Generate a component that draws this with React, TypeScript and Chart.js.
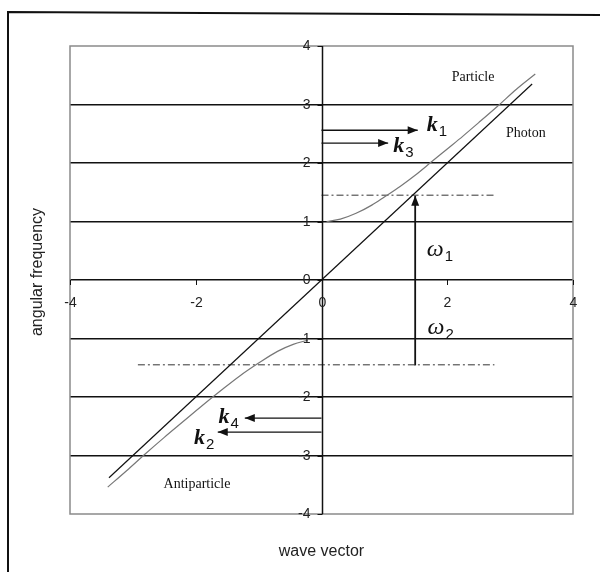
import React, { useEffect, useRef } from 'react';
import { Chart, registerables } from 'chart.js';

Chart.register(...registerables);

// ---- data ----
const photonX = [-3.38, 3.35];
const photonY = [-3.38, 3.35];

const particleX = [0.08, 0.3, 0.55, 0.8, 1.0, 1.25, 1.5, 1.75, 2.0, 2.25, 2.5, 2.8, 3.1, 3.4];
const particleY = [1.0, 1.04, 1.14, 1.28, 1.42, 1.6, 1.8, 2.02, 2.24, 2.46, 2.69, 2.97, 3.26, 3.52];

const antiX = [-0.22, -0.45, -0.7, -1.0, -1.3, -1.6, -1.9, -2.2, -2.5, -2.8, -3.1, -3.4];
const antiY = [-1.03, -1.1, -1.22, -1.42, -1.64, -1.89, -2.15, -2.42, -2.69, -2.97, -3.26, -3.54];

const dashUpperX = [0.0, 2.76];
const dashUpperY = [1.45, 1.45];
const dashLowerX = [-2.92, 2.75];
const dashLowerY = [-1.45, -1.45];

const omegaArrowX = [1.49, 1.49];
const omegaArrowY = [-1.46, 1.44];

const kArrowStartX = [0, 0, 0, 0];
const kArrowEndX = [1.53, 1.06, -1.22, -1.65];
const kArrowY = [2.56, 2.34, -2.36, -2.6];

const xTickValues = [-4, -2, 0, 2, 4];
const yTickValues = [-4, -3, -2, -1, 0, 1, 2, 3, 4];

const xTitle = 'wave vector';
const yTitle = 'angular frequency';

const textLabels = ['Particle', 'Photon', 'Antiparticle'];
const textLabelX = [2.41, 3.25, -1.98];
const textLabelY = [3.47, 2.51, -3.49];

const handMain = ['k', 'k', 'k', 'k', 'ω', 'ω'];
const handSub = ['1', '3', '4', '2', '1', '2'];
const handX = [1.76, 1.23, -1.55, -1.94, 1.81, 1.82];
const handY = [2.65, 2.29, -2.34, -2.7, 0.52, -0.82];

const pts = (xs: number[], ys: number[]) => xs.map((x, i) => ({ x, y: ys[i] }));

function arrowHead(ctx: CanvasRenderingContext2D, tx: number, ty: number, dx: number, dy: number) {
  const len = Math.hypot(dx, dy) || 1;
  const ux = dx / len, uy = dy / len;
  const L = 10, W = 4;
  ctx.beginPath();
  ctx.moveTo(tx, ty);
  ctx.lineTo(tx - ux * L - uy * W, ty - uy * L + ux * W);
  ctx.lineTo(tx - ux * L + uy * W, ty - uy * L - ux * W);
  ctx.closePath();
  ctx.fill();
}

const decorPlugin = {
  id: 'decor',
  afterDatasetsDraw(chart: any) {
    const ctx: CanvasRenderingContext2D = chart.ctx;
    const xs = chart.scales.x;
    const ys = chart.scales.y;
    const area = chart.chartArea;
    const X = (v: number) => xs.getPixelForValue(v);
    const Y = (v: number) => ys.getPixelForValue(v);
    const ax = Math.round(X(0)) + 0.5;
    const ay = Y(0);
    ctx.save();

    // outer frame
    ctx.strokeStyle = '#111';
    ctx.lineWidth = 2;
    ctx.beginPath();
    ctx.moveTo(8, 572);
    ctx.lineTo(8, 12);
    ctx.lineTo(600, 15);
    ctx.stroke();

    // plot box
    ctx.strokeStyle = '#8a8a8a';
    ctx.lineWidth = 1.5;
    ctx.strokeRect(area.left, area.top, area.right - area.left, area.bottom - area.top);

    // y axis line through x=0
    ctx.strokeStyle = '#111';
    ctx.lineWidth = 1.5;
    ctx.beginPath();
    ctx.moveTo(ax, area.top);
    ctx.lineTo(ax, area.bottom);
    ctx.stroke();

    // y ticks & labels
    ctx.lineWidth = 1;
    ctx.fillStyle = '#222';
    ctx.font = "14px 'Liberation Sans', Arial, sans-serif";
    ctx.textAlign = 'right';
    ctx.textBaseline = 'middle';
    yTickValues.forEach((v) => {
      const py = Math.round(Y(v)) + 0.5;
      ctx.beginPath();
      ctx.moveTo(ax - 5, py);
      ctx.lineTo(ax, py);
      ctx.stroke();
      ctx.fillText(String(v), ax - 12, py);
    });

    // x ticks & labels
    ctx.textAlign = 'center';
    xTickValues.forEach((v) => {
      const px = Math.round(X(v)) + 0.5;
      ctx.beginPath();
      ctx.moveTo(px, ay);
      ctx.lineTo(px, ay + 5);
      ctx.stroke();
      ctx.fillText(String(v), px, ay + 23);
    });

    // axis titles
    ctx.fillStyle = '#222';
    ctx.font = "16px 'Liberation Sans', Arial, sans-serif";
    ctx.textAlign = 'center';
    ctx.textBaseline = 'middle';
    ctx.fillText(xTitle, (area.left + area.right) / 2, 552);
    ctx.save();
    ctx.translate(38, 272);
    ctx.rotate(-Math.PI / 2);
    ctx.fillText(yTitle, 0, 0);
    ctx.restore();

    // region labels
    ctx.fillStyle = '#111';
    ctx.font = "14px 'Liberation Serif', 'Times New Roman', serif";
    textLabels.forEach((t, i) => {
      ctx.fillText(t, X(textLabelX[i]), Y(textLabelY[i]));
    });

    // hand-written labels
    handMain.forEach((m, i) => {
      const px = X(handX[i]);
      const py = Y(handY[i]);
      ctx.textAlign = 'center';
      ctx.textBaseline = 'middle';
      ctx.font = m === 'k'
        ? "bold italic 22px 'Liberation Serif', serif"
        : "italic 24px 'Liberation Serif', serif";
      ctx.fillText(m, px, py);
      const w = ctx.measureText(m).width;
      ctx.font = "15px 'Liberation Sans', sans-serif";
      ctx.textAlign = 'left';
      ctx.fillText(handSub[i], px + w / 2 + 1, py + 7);
    });

    // arrow heads
    ctx.fillStyle = '#111';
    kArrowEndX.forEach((ex, i) => {
      const sx = X(kArrowStartX[i]);
      const tx = X(ex);
      const ty = Y(kArrowY[i]);
      arrowHead(ctx, tx, ty, tx - sx, 0);
    });
    {
      const tx = X(omegaArrowX[1]);
      const ty = Y(omegaArrowY[1]);
      arrowHead(ctx, tx, ty, 0, ty - Y(omegaArrowY[0]));
    }
    ctx.restore();
  },
};

export default function App() {
  const ref = useRef<HTMLCanvasElement | null>(null);
  useEffect(() => {
    if (!ref.current) return;
    const line = (data: any, color: string, width: number, extra: any = {}) => ({
      data,
      showLine: true,
      borderColor: color,
      backgroundColor: color,
      borderWidth: width,
      pointRadius: 0,
      pointHoverRadius: 0,
      fill: false,
      ...extra,
    });
    const datasets: any[] = [
      line(pts(photonX, photonY), '#111', 1.2),
      line(pts(particleX, particleY), '#777', 1.2, { tension: 0.35, cubicInterpolationMode: 'monotone' }),
      line(pts(antiX, antiY), '#777', 1.2, { tension: 0.35, cubicInterpolationMode: 'monotone' }),
      line(pts(dashUpperX, dashUpperY), '#333', 1, { borderDash: [7, 3, 2, 3] }),
      line(pts(dashLowerX, dashLowerY), '#333', 1, { borderDash: [7, 3, 2, 3] }),
      line(pts(omegaArrowX, omegaArrowY), '#111', 1.8),
    ];
    kArrowEndX.forEach((ex, i) => {
      datasets.push(line(pts([kArrowStartX[i], ex], [kArrowY[i], kArrowY[i]]), '#111', 1.3));
    });
    const chart = new Chart(ref.current, {
      type: 'scatter',
      data: { datasets },
      options: {
        animation: false,
        responsive: false,
        devicePixelRatio: 1,
        events: [],
        layout: { padding: { left: 70, right: 27, top: 46, bottom: 58 } },
        plugins: { legend: { display: false }, tooltip: { enabled: false } },
        scales: {
          x: {
            type: 'linear',
            min: -4,
            max: 4,
            display: false,
          },
          y: {
            type: 'linear',
            position: 'left',
            min: -4,
            max: 4,
            afterFit: (s: any) => { s.width = 0; },
            ticks: { display: false, stepSize: 1 },
            border: { display: false },
            grid: {
              drawTicks: false,
              lineWidth: 1.6,
              color: (c: any) => (c.tick && Math.abs(c.tick.value) === 4 ? 'rgba(0,0,0,0)' : '#111'),
            },
          },
        },
      },
      plugins: [decorPlugin],
    });
    return () => chart.destroy();
  }, []);
  return (
    <div style={{ position: 'absolute', left: 0, top: 0, width: 600, height: 572, background: '#fff' }}>
      <canvas ref={ref} width={600} height={572} style={{ width: 600, height: 572, display: 'block' }} />
    </div>
  );
}
